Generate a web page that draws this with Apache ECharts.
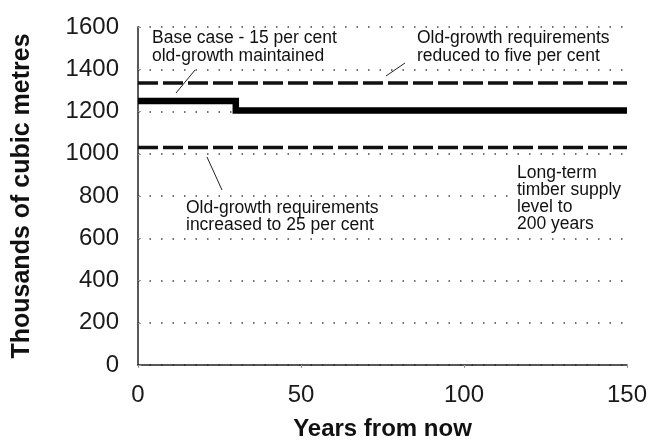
<!DOCTYPE html>
<html>
<head>
<meta charset="utf-8">
<script src="https://cdn.jsdelivr.net/npm/echarts@6/dist/echarts.min.js"></script>
<style>
html, body { margin: 0; padding: 0; background: #fff; }
#chart { width: 660px; height: 446px; }
</style>
</head>
<body>
<div id="chart"></div>
<script>
// years from now / thousands of cubic metres
var baseYears = [0, 30, 30, 150];
var baseValues = [1250, 1250, 1205, 1205];
var fiveYears = [0, 150];
var fiveValues = [1335, 1335];
var twentyFiveYears = [0, 150];
var twentyFiveValues = [1030, 1030];
var xTicks = [0, 50, 100, 150];
var yTicks = [0, 200, 400, 600, 800, 1000, 1200, 1400, 1600];

function pairs(xs, ys) {
    return xs.map(function (x, i) { return [x, ys[i]]; });
}

var font = '"Liberation Sans", Arial, Helvetica, sans-serif';
var noteFont = '17.5px ' + font;
var chart = echarts.init(document.getElementById('chart'));

var option = {
    backgroundColor: '#fff',
    animation: false,
    grid: { left: 138, right: 33, top: 27, bottom: 80 },
    xAxis: {
        type: 'value',
        min: xTicks[0],
        max: xTicks[xTicks.length - 1],
        interval: 50,
        name: 'Years from now',
        nameLocation: 'middle',
        nameGap: 52,
        nameTextStyle: { fontFamily: font, fontSize: 24, fontWeight: 'bold', color: '#111' },
        axisLine: { lineStyle: { color: '#222', width: 1.5 } },
        axisTick: { show: true, length: 3, lineStyle: { color: '#999' } },
        axisLabel: { fontFamily: font, fontSize: 24, color: '#1a1a1a', margin: 18 },
        splitLine: { show: false }
    },
    yAxis: {
        type: 'value',
        min: yTicks[0],
        max: yTicks[yTicks.length - 1],
        interval: 200,
        name: 'Thousands of cubic metres',
        nameLocation: 'middle',
        nameGap: 103,
        nameTextStyle: { fontFamily: font, fontSize: 25, fontWeight: 'bold', color: '#111' },
        axisLine: { show: true, lineStyle: { color: '#222', width: 1.5 } },
        axisTick: { show: true, inside: true, length: 3, lineStyle: { color: '#999' } },
        axisLabel: {
            fontFamily: font, fontSize: 24, color: '#1a1a1a', margin: 19,
            formatter: function (v) { return String(v); }
        },
        splitLine: {
            show: true,
            lineStyle: { color: '#444', width: 1.5, type: [1.5, 10] }
        }
    },
    series: [
        {
            name: 'Old-growth requirements reduced to five per cent',
            type: 'line',
            data: pairs(fiveYears, fiveValues),
            symbol: 'none',
            lineStyle: { color: '#111', width: 3.5, type: [20, 5], cap: 'butt' }
        },
        {
            name: 'Base case - 15 per cent old-growth maintained',
            type: 'line',
            data: pairs(baseYears, baseValues),
            symbol: 'none',
            lineStyle: { color: '#000', width: 6.5, cap: 'butt', join: 'miter' }
        },
        {
            name: 'Old-growth requirements increased to 25 per cent',
            type: 'line',
            data: pairs(twentyFiveYears, twentyFiveValues),
            symbol: 'none',
            lineStyle: { color: '#111', width: 3.5, type: [20, 5], cap: 'butt' }
        }
    ],
    graphic: [
        { type: 'rect', shape: { x: 148, y: 29, width: 195, height: 36 }, style: { fill: '#fff' }, z: 50 },
        { type: 'text', left: 152, top: 29, z: 51,
          style: { text: 'Base case - 15 per cent\nold-growth maintained', font: noteFont, fill: '#111', lineHeight: 18 } },
        { type: 'line', shape: { x1: 195, y1: 70, x2: 176, y2: 93 }, style: { stroke: '#222', lineWidth: 1 }, z: 51 },
        { type: 'rect', shape: { x: 413, y: 29, width: 215, height: 36 }, style: { fill: '#fff' }, z: 50 },
        { type: 'text', left: 417, top: 29, z: 51,
          style: { text: 'Old-growth requirements\nreduced to five per cent', font: noteFont, fill: '#111', lineHeight: 18 } },
        { type: 'line', shape: { x1: 405, y1: 63, x2: 386, y2: 76 }, style: { stroke: '#222', lineWidth: 1 }, z: 51 },
        { type: 'rect', shape: { x: 182, y: 199, width: 210, height: 35 }, style: { fill: '#fff' }, z: 50 },
        { type: 'text', left: 186, top: 199, z: 51,
          style: { text: 'Old-growth requirements\nincreased to 25 per cent', font: noteFont, fill: '#111', lineHeight: 17 } },
        { type: 'line', shape: { x1: 207, y1: 157, x2: 222, y2: 190 }, style: { stroke: '#222', lineWidth: 1 }, z: 51 },
        { type: 'rect', shape: { x: 513, y: 164, width: 120, height: 68 }, style: { fill: '#fff' }, z: 50 },
        { type: 'text', left: 517, top: 164, z: 51,
          style: { text: 'Long-term\ntimber supply\nlevel to\n200 years', font: noteFont, fill: '#111', lineHeight: 17 } }
    ]
};

chart.setOption(option);
window.addEventListener('resize', function () { chart.resize(); });
</script>
</body>
</html>
